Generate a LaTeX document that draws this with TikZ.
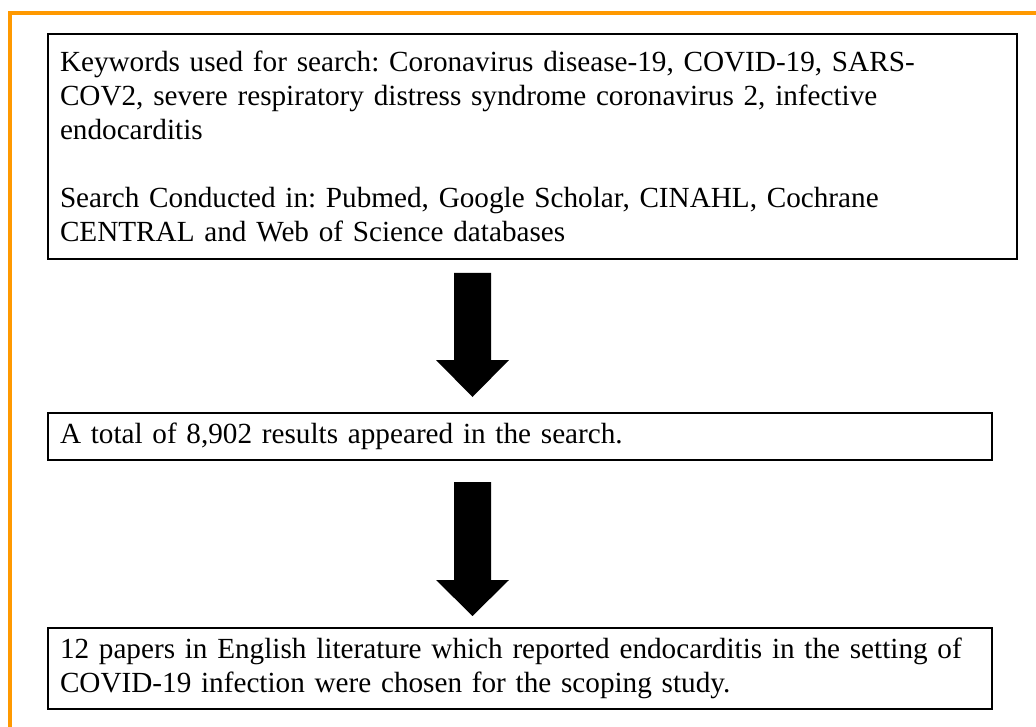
\documentclass[tikz,border=0pt]{standalone}
\usepackage{fontspec}
\setmainfont{Liberation Serif}
\usetikzlibrary{calc}
\definecolor{frameorange}{RGB}{255,153,0}
\newcommand{\fatarrow}[3]{%
  \fill[black] ($(#1)+(-18.5,0)$) -- ($(#1)+(18.5,0)$) -- ($(#2)+(18.5,-#3)$)
    -- ($(#2)+(36.5,-#3)$) -- (#2) -- ($(#2)+(-36.5,-#3)$)
    -- ($(#2)+(-18.5,-#3)$) -- cycle;}
\begin{document}
\frenchspacing
\begin{tikzpicture}[x=1pt,y=-1pt,
  box/.style={draw=black, line width=2.5pt, rectangle, anchor=north west,
    inner xsep=12pt, inner ysep=0pt, outer sep=0pt, align=left,
    font=\fontsize{29.2}{34}\selectfont\frenchspacing}]
\useasboundingbox (0,0) rectangle (1036,727);
\draw[frameorange, line width=4pt] (10,727) -- (10,13) -- (1036,13);

\node[box, text width=945pt, minimum height=225pt] (b1) at (48,34)
  {Keywords used for search: Coronavirus disease-19, COVID-19, SARS-\\
   COV2, severe respiratory distress syndrome coronavirus 2, infective\\
   endocarditis\\[34pt]
   Search Conducted in: Pubmed, Google Scholar, CINAHL, Cochrane\\
   CENTRAL and Web of Science databases};
\node[box, text width=920pt, minimum height=47pt] (b2) at (48,413)
  {A total of 8,902 results appeared in the search.};
\node[box, text width=920pt, minimum height=81pt] (b3) at (48,628)
  {12 papers in English literature which reported endocarditis in the setting of\\
   COVID-19 infection were chosen for the scoping study.};

\coordinate (ax) at (472.5,0);
\coordinate (a1top) at ($(b1.south -| ax)+(0,14)$);
\coordinate (a1tip) at ($(b2.north -| ax)+(0,-16)$);
\coordinate (a2top) at ($(b2.south -| ax)+(0,22)$);
\coordinate (a2tip) at ($(b3.north -| ax)+(0,-12)$);
\fatarrow{a1top}{a1tip}{37}
\fatarrow{a2top}{a2tip}{36}
\end{tikzpicture}
\end{document}
